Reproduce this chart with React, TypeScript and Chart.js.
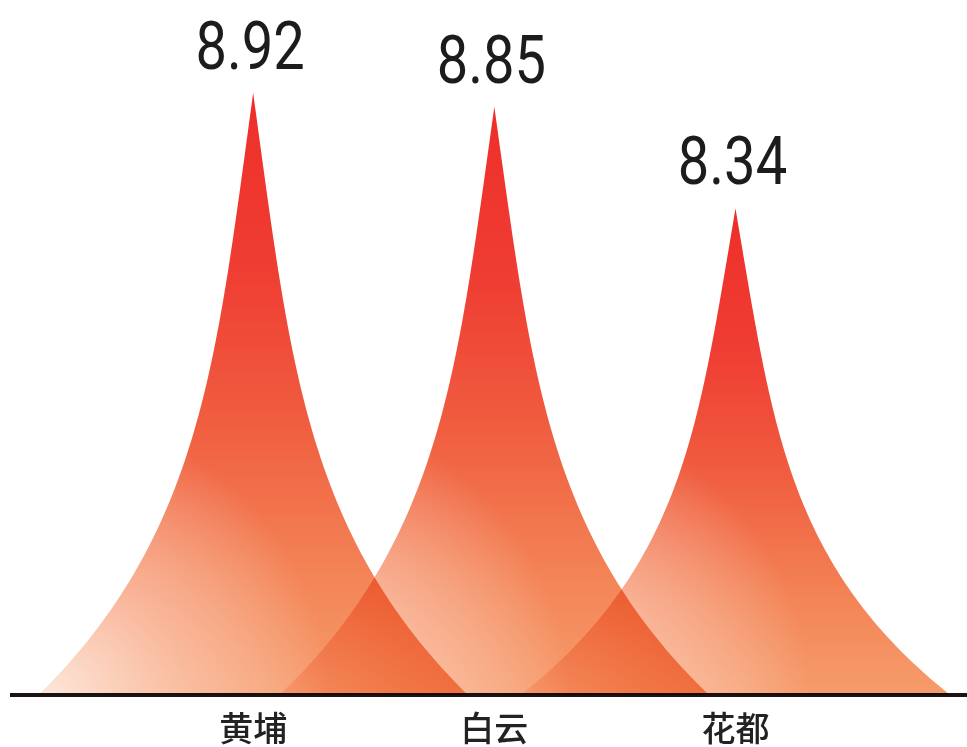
import { useEffect, useRef } from 'react';
import { Chart, registerables } from 'chart.js';

Chart.register(...registerables);

const categories = ['黄埔', '白云', '花都'];
const values = [8.92, 8.85, 8.34];
const positions = [1, 2, 3];

function spikePath(ctx: CanvasRenderingContext2D, cx: number, top: number, base: number, hw: number) {
  const h = base - top;
  const N = 90;
  const widthAt = (t: number) => {
    const s = 1 - t;
    return hw * (0.38 * s + 0.62 * Math.pow(s, 4));
  };
  ctx.beginPath();
  for (let i = 0; i <= N; i++) {
    const t = i / N;
    const w = widthAt(t);
    const y = base - t * h;
    if (i === 0) ctx.moveTo(cx - w, y);
    else ctx.lineTo(cx - w, y);
  }
  for (let i = N; i >= 0; i--) {
    const t = i / N;
    const w = widthAt(t);
    ctx.lineTo(cx + w, base - t * h);
  }
  ctx.closePath();
}

const whiteBg = {
  id: 'whiteBg',
  beforeDraw(chart: any) {
    const { ctx, width, height } = chart;
    ctx.save();
    ctx.fillStyle = '#ffffff';
    ctx.fillRect(0, 0, width, height);
    ctx.restore();
  },
};

const spikePlugin = {
  id: 'spikes',
  afterDatasetsDraw(chart: any) {
    const { ctx, scales } = chart;
    const xs = scales.x;
    const ys = scales.y;
    const meta = chart.getDatasetMeta(0);
    const base = ys.getPixelForValue(ys.min);
    const hw = (xs.getPixelForValue(1) - xs.getPixelForValue(0)) * 0.89;
    const dpr = chart.currentDevicePixelRatio || 1;
    const canvas = chart.canvas as HTMLCanvasElement;
    meta.data.forEach((pt: any) => {
      const off = document.createElement('canvas');
      off.width = canvas.width;
      off.height = canvas.height;
      const o = off.getContext('2d') as CanvasRenderingContext2D;
      o.scale(dpr, dpr);
      const cx = pt.x;
      const top = pt.y;
      spikePath(o, cx, top, base, hw);
      const g = o.createLinearGradient(0, top, 0, base);
      g.addColorStop(0, '#ee2e2a');
      g.addColorStop(0.3, '#ef3e33');
      g.addColorStop(0.55, '#f05e40');
      g.addColorStop(0.8, '#f38456');
      g.addColorStop(1, '#f69c6c');
      o.fillStyle = g;
      o.fill();
      o.globalCompositeOperation = 'source-atop';
      const rx = cx - hw * 0.95;
      const r = o.createRadialGradient(rx, base, 0, rx, base, hw * 1.3);
      r.addColorStop(0, 'rgba(255,250,248,0.78)');
      r.addColorStop(0.5, 'rgba(255,235,228,0.42)');
      r.addColorStop(1, 'rgba(255,255,255,0)');
      o.fillStyle = r;
      o.fillRect(0, 0, off.width, off.height);
      ctx.save();
      ctx.setTransform(1, 0, 0, 1, 0, 0);
      ctx.globalCompositeOperation = 'multiply';
      ctx.drawImage(off, 0, 0);
      ctx.restore();
    });
    ctx.save();
    ctx.fillStyle = '#1c1c1c';
    ctx.font = '400 66px Roboto, "DejaVu Sans", sans-serif';
    ctx.textAlign = 'center';
    ctx.textBaseline = 'alphabetic';
    meta.data.forEach((pt: any, i: number) => {
      ctx.save();
      ctx.translate(pt.x - 3, pt.y - 24);
      ctx.scale(0.85, 1);
      ctx.fillText(values[i].toFixed(2), 0, 0);
      ctx.restore();
    });
    ctx.restore();
  },
};

export default function App() {
  const ref = useRef<HTMLCanvasElement | null>(null);
  useEffect(() => {
    if (!ref.current) return;
    const chart = new Chart(ref.current, {
      type: 'line',
      data: {
        datasets: [
          {
            data: positions.map((x, i) => ({ x, y: values[i] })),
            showLine: false,
            pointRadius: 0,
            pointHoverRadius: 0,
            borderWidth: 0,
          },
        ],
      },
      options: {
        animation: false,
        responsive: true,
        maintainAspectRatio: false,
        layout: { padding: { top: 19, bottom: -14, left: 12, right: 0 } },
        plugins: { legend: { display: false }, tooltip: { enabled: false } },
        scales: {
          x: {
            type: 'linear',
            min: 0,
            max: 3.96,
            z: 1,
            afterBuildTicks: (s: any) => {
              s.ticks = positions.map((v) => ({ value: v }));
            },
            grid: { display: false, drawTicks: false },
            border: { display: true, color: '#1a1414', width: 4 },
            ticks: {
              autoSkip: false,
              maxRotation: 0,
              padding: 22,
              color: '#222222',
              font: { family: '"Noto Sans CJK SC", sans-serif', size: 34, weight: '500', lineHeight: 0.65 },
              callback: (v: any) => {
                const idx = positions.indexOf(Number(v));
                return idx >= 0 ? categories[idx] : '';
              },
            },
          },
          y: {
            display: false,
            min: 5.9,
            max: 9.29,
          },
        },
      },
      plugins: [whiteBg, spikePlugin],
    } as any);
    return () => chart.destroy();
  }, []);
  return (
    <div style={{ position: 'absolute', left: 0, top: 0, width: 967, height: 747 }}>
      <canvas ref={ref} />
    </div>
  );
}
